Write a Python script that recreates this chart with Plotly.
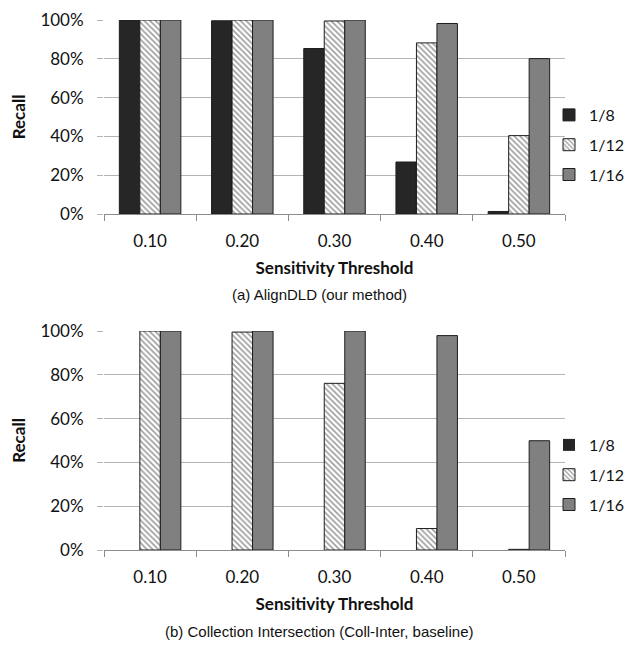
import plotly.graph_objects as go
from plotly.subplots import make_subplots

categories = ["0.10", "0.20", "0.30", "0.40", "0.50"]
series_names = ["1/8", "1/12", "1/16"]

# (a) AlignDLD (our method)
align_1_8 = [1.00, 0.996, 0.853, 0.268, 0.013]
align_1_12 = [1.00, 1.00, 0.995, 0.882, 0.404]
align_1_16 = [1.00, 1.00, 1.00, 0.982, 0.801]

# (b) Collection Intersection (Coll-Inter, baseline)
coll_1_8 = [0.0, 0.0, 0.0, 0.0, 0.0]
coll_1_12 = [1.00, 0.995, 0.761, 0.098, 0.003]
coll_1_16 = [1.00, 1.00, 1.00, 0.979, 0.499]

y_ticks = [0, 0.2, 0.4, 0.6, 0.8, 1.0]
captions = ["(a) AlignDLD (our method)", "(b) Collection Intersection (Coll-Inter, baseline)"]

FONT = "Lato"

# The page body has an 8px default margin on every side; size the figure to fit inside it
W, H = 622, 632
OFF = 8


def px(xp):
    return (xp - OFF) / W


def py(yp):
    return 1 - (yp - OFF) / H


fig = make_subplots(rows=2, cols=1)


def style(i, vals):
    widths = [1 if v > 0 else 0 for v in vals]
    line = dict(color="#1e1e1e", width=widths)
    if i == 0:
        return dict(color="#262626", line=line)
    if i == 1:
        return dict(color="white", line=line,
                    pattern=dict(shape="\\", fgcolor="#3c3c3c", bgcolor="white",
                                 size=4, solidity=0.4))
    return dict(color="#808080", line=line)


panels = [(align_1_8, align_1_12, align_1_16), (coll_1_8, coll_1_12, coll_1_16)]
for r, vals in enumerate(panels, start=1):
    for i, (name, v) in enumerate(zip(series_names, vals)):
        fig.add_trace(go.Bar(x=categories, y=v, name=name, marker=style(i, v),
                             legend="legend" if r == 1 else "legend2",
                             legendgroup=f"{name}-{r}"), row=r, col=1)

leg = dict(xanchor="right", yanchor="top", font=dict(size=16, family=FONT, color="#111"),
           tracegroupgap=6, itemwidth=30, bgcolor="rgba(0,0,0,0)")
fig.update_layout(
    width=W, height=H, margin=dict(l=0, r=0, t=0, b=0, autoexpand=False),
    plot_bgcolor="white", paper_bgcolor="white",
    barmode="group", bargap=0.333, bargroupgap=0,
    font=dict(family=FONT, size=16, color="#111"),
    showlegend=True,
    legend=dict(x=1, y=py(98), **leg),
    legend2=dict(x=1, y=py(428), **leg),
)

ydoms = [(py(214), py(20)), (py(550), py(331))]
for r, dom in enumerate(ydoms, start=1):
    fig.update_xaxes(row=r, col=1, domain=[px(104), px(565)], showline=True,
                     linecolor="#8c8c8c", linewidth=1, ticks="outside",
                     tickson="boundaries", ticklen=6, tickcolor="#8c8c8c",
                     ticklabelstandoff=12, automargin=False, ticklabeloverflow="allow",
                     tickfont=dict(size=17, family=FONT),
                     title=dict(text="<b>Sensitivity Threshold</b>", standoff=11,
                                font=dict(size=17, family=FONT)))
    fig.update_yaxes(row=r, col=1, domain=list(dom), range=[0, 1], tickvals=y_ticks,
                     tickformat=".0%", showgrid=True, gridcolor="#b4b4b4", gridwidth=1,
                     zeroline=False, showline=False, ticks="outside", ticklen=6,
                     tickcolor="#b4b4b4", ticklabelstandoff=10, automargin=False,
                     ticklabeloverflow="allow",
                     tickfont=dict(size=17, family=FONT),
                     title=dict(text="<b>Recall</b>", standoff=22,
                                font=dict(size=17, family=FONT)))

for cap, cy in zip(captions, [294, 631]):
    fig.add_annotation(text=cap, x=px(319), y=py(cy), xref="paper", yref="paper",
                       showarrow=False,
                       font=dict(family="Liberation Sans", size=15, color="#111"),
                       xanchor="center", yanchor="middle")

fig.write_html("out.html")
